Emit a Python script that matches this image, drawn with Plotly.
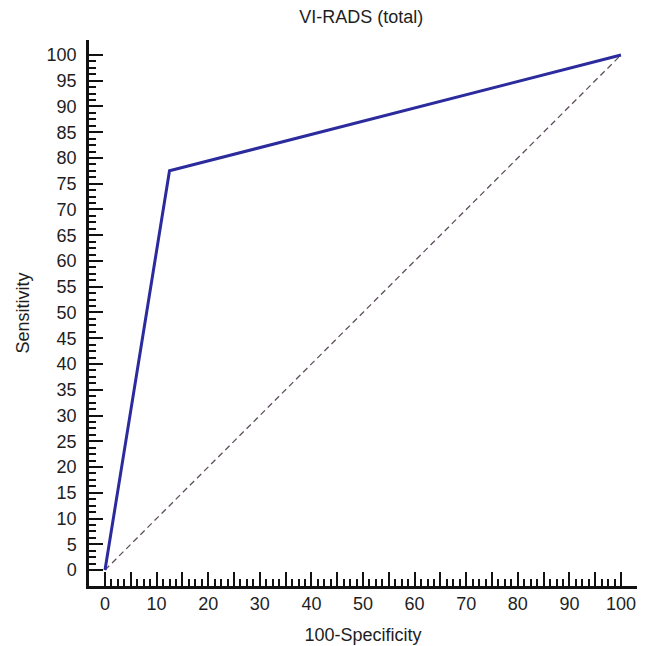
import numpy as np
import plotly.graph_objects as go

# ROC data
fpr = [0, 12.5, 100]          # 100-Specificity
tpr = [0, 77.5, 100]          # Sensitivity
ref_x = [0, 100]
ref_y = [0, 100]

title_text = "VI-RADS (total)"
x_title = "100-Specificity"
y_title = "Sensitivity"

x_major = list(range(0, 101, 5))
x_labels = [str(v) if v % 10 == 0 else "" for v in x_major]
y_major = list(range(0, 101, 5))
y_labels = [str(v) for v in y_major]
minor_vals = [v for v in np.arange(0, 100.01, 1.25) if abs(v / 5 - round(v / 5)) > 1e-9]

font_family = "Liberation Sans, Arial, sans-serif"
txt_color = "#1e1e1e"

fig = go.Figure()
fig.add_trace(go.Scatter(x=ref_x, y=ref_y, mode="lines",
                         line=dict(color="#5e4f5e", width=1.3, dash="6px,4px"),
                         showlegend=False, hoverinfo="skip"))
fig.add_trace(go.Scatter(x=fpr, y=tpr, mode="lines",
                         line=dict(color="#2b2b9e", width=3),
                         showlegend=False))

axis_common = dict(
    showgrid=False, zeroline=False, showline=True, linecolor="#111111", linewidth=2.5,
    ticks="inside", ticklen=14, tickwidth=2, tickcolor="#111111", automargin=False,
    tickfont=dict(family=font_family, size=18, color=txt_color),
)

fig.update_xaxes(range=[-3.1, 103.1], tickmode="array", tickvals=x_major, ticktext=x_labels,
                 minor=dict(tickmode="array", tickvals=minor_vals, ticks="inside", ticklen=7,
                            tickwidth=2, tickcolor="#111111"),
                 title=dict(text=x_title, font=dict(family=font_family, size=18, color=txt_color),
                            standoff=16),
                 **axis_common)
fig.update_yaxes(range=[-3.1, 102.9], tickmode="array", tickvals=y_major, ticktext=y_labels,
                 minor=dict(tickmode="array", tickvals=minor_vals, ticks="inside", ticklen=7,
                            tickwidth=2, tickcolor="#111111"),
                 ticklabelstandoff=6,
                 title=dict(text=y_title, font=dict(family=font_family, size=18, color=txt_color),
                            standoff=13),
                 **axis_common)

# the page body adds an 8px offset, so the figure is sized to the visible area
fig.update_layout(
    width=641, height=638,
    margin=dict(l=81, r=12, t=32, b=60),
    paper_bgcolor="white", plot_bgcolor="white",
    title=dict(text=title_text, x=0.551, xanchor="center", y=0.986, yanchor="middle",
               font=dict(family=font_family, size=18, color=txt_color)),
)

fig.write_html("out.html")
